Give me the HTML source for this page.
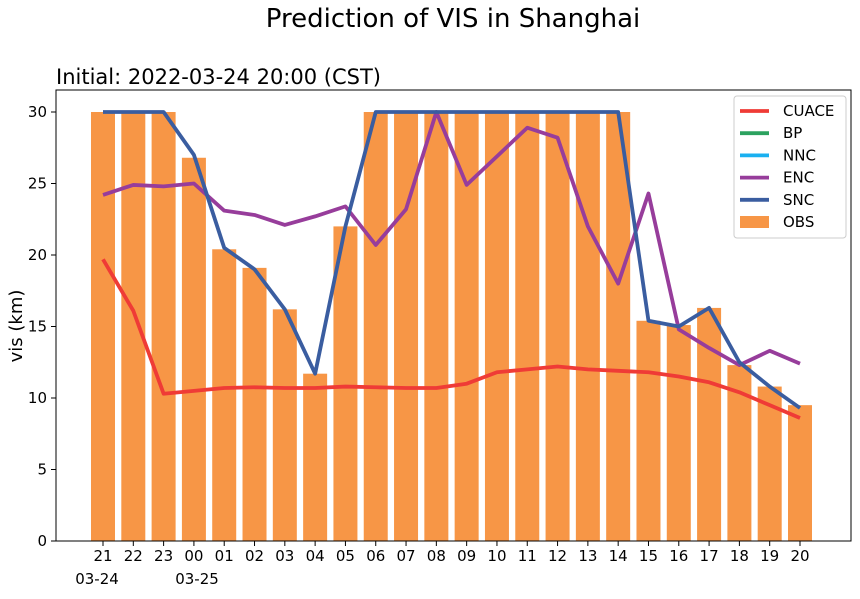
<!DOCTYPE html>
<html><head><meta charset="utf-8"><style>
body{margin:0;background:#fff;font-family:"Liberation Sans","DejaVu Sans",sans-serif;}
svg text{font-family:"DejaVu Sans","Liberation Sans",sans-serif;}
</style></head><body>
<svg id="chart" width="860" height="594" xmlns="http://www.w3.org/2000/svg">
<text x="453" y="27" font-size="26" text-anchor="middle">Prediction of VIS in Shanghai</text>
<text x="56" y="84" font-size="21">Initial: 2022-03-24 20:00 (CST)</text>
<text transform="translate(22,326) rotate(-90)" font-size="18" text-anchor="middle">vis (km)</text>
<g id="bars"></g><g id="lines"></g><g id="axes"></g>
<rect x="56" y="90" width="795" height="451" fill="none" stroke="#000" stroke-width="1"/>
<g id="legend"></g>
<text x="97" y="584" font-size="15" text-anchor="middle">03-24</text>
<text x="197" y="584" font-size="15" text-anchor="middle">03-25</text>
</svg>
<script>
const categories=["21","22","23","00","01","02","03","04","05","06","07","08","09","10","11","12","13","14","15","16","17","18","19","20"];
const obs=[30,30,30,26.8,20.4,19.1,16.2,11.7,22,30,30,30,30,30,30,30,30,30,15.4,15.1,16.3,12.3,10.8,9.5];
const cuace=[19.7,16.1,10.3,10.5,10.7,10.75,10.7,10.7,10.8,10.75,10.7,10.7,11.0,11.8,12.0,12.2,12.0,11.9,11.8,11.5,11.1,10.4,9.5,8.6];
const bp=[];
const nnc=[];
const enc=[24.2,24.9,24.8,25.0,23.1,22.8,22.1,22.7,23.4,20.7,23.2,30,24.9,26.9,28.9,28.2,22.0,18.0,24.3,14.8,13.5,12.3,13.3,12.4];
const snc=[30,30,30,27,20.5,19.0,16.2,11.7,22,30,30,30,30,30,30,30,30,30,15.4,15.0,16.3,12.5,10.8,9.3];
const yTicks=[0,5,10,15,20,25,30];
const NS="http://www.w3.org/2000/svg";
const x=i=>103+i*(800-103)/23;
const y=v=>541-v*(541-112)/30;
function mk(tag,attrs,parent){const e=document.createElementNS(NS,tag);for(const k in attrs)e.setAttribute(k,attrs[k]);parent.appendChild(e);return e;}
const bars=document.getElementById('bars'),lines=document.getElementById('lines'),axes=document.getElementById('axes'),leg=document.getElementById('legend');
obs.forEach((v,i)=>{const r=mk('rect',{x:x(i)-12,y:y(v),width:24,height:y(0)-y(v),fill:'#f79646'},bars);

});
const series=[["CUACE",cuace,"#ef3b36"],["BP",bp,"#2ca25f"],["NNC",nnc,"#1ab0f0"],["ENC",enc,"#973d9b"],["SNC",snc,"#3a5da0"]];
series.forEach(([n,d,c])=>{if(!d.length)return;const p=mk('polyline',{points:d.map((v,i)=>x(i)+','+y(v)).join(' '),fill:'none',stroke:c,'stroke-width':3.8,'stroke-linejoin':'round'},lines);

});
yTicks.forEach(t=>{mk('line',{x1:51,x2:56,y1:y(t),y2:y(t),stroke:'#000'},axes);
const tx=mk('text',{x:47,y:y(t)+5,'font-size':15,'text-anchor':'end'},axes);tx.textContent=t;

});
categories.forEach((c,i)=>{mk('line',{x1:x(i),x2:x(i),y1:541,y2:546,stroke:'#000'},axes);
const tx=mk('text',{x:x(i),y:561,'font-size':15,'text-anchor':'middle'},axes);tx.textContent=c;

});
mk('rect',{x:734,y:96,width:112,height:142,fill:'#fff',stroke:'#ccc',rx:3},leg);
const items=[["CUACE","#ef3b36"],["BP","#2ca25f"],["NNC","#1ab0f0"],["ENC","#973d9b"],["SNC","#3a5da0"],["OBS","#f79646"]];
items.forEach(([n,c],i)=>{const yy=111+i*22.2;
const g=mk('g',{},leg);


if(n==="OBS")mk('rect',{x:740,y:yy-6,width:29,height:12,fill:c},g);else mk('line',{x1:740,x2:769,y1:yy,y2:yy,stroke:c,'stroke-width':3.8},g);
const t=mk('text',{x:783,y:yy+5,'font-size':15},g);t.textContent=n;});
</script>
</body></html>
